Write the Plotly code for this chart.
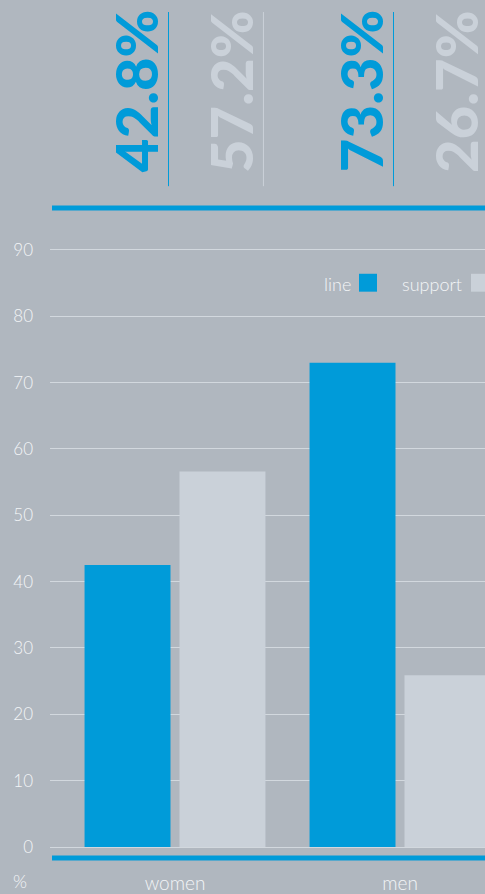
import plotly.graph_objects as go

# ---- data ----
categories = ["women", "men"]
series_names = ["line", "support"]
line_values = [42.5, 73.0]        # bar heights
support_values = [56.6, 25.9]
line_labels = ["42.8%", "73.3%"]  # big headline labels
support_labels = ["57.2%", "26.7%"]
y_ticks = [0, 10, 20, 30, 40, 50, 60, 70, 80, 90]

# ---- styles ----
BG = "#b0b7bf"
BLUE = "#009bd9"
GREY = "#cad1d9"
TXT = "#f3f5f7"
GRID = "#d2d8de"
FONT = "Lato"

W, H = 485, 894
ML, MR, MT, MB = 50, 0, 225, 44
PH = H - MT - MB
PW = W - ML - MR
XR = [-125 / 225, 310 / 225]

def py(p):  # pixel y -> paper y
    return (H - MB - p) / PH

def px(p):  # pixel x -> paper x
    return (p - ML) / PW

def dx2paper(v):
    return (v - XR[0]) / (XR[1] - XR[0])

BAR_W = 0.382
OFF_L = -0.402
OFF_S = 0.02
xpos = list(range(len(categories)))

fig = go.Figure()
fig.add_trace(go.Bar(x=xpos, y=line_values, name=series_names[0], marker_color=BLUE,
                     width=BAR_W, offset=OFF_L, marker_line_width=0))
fig.add_trace(go.Bar(x=xpos, y=support_values, name=series_names[1], marker_color=GREY,
                     width=BAR_W, offset=OFF_S, marker_line_width=0))

ann = []
shapes = []
for i in range(len(categories)):
    for lbl, off, col in ((line_labels[i], OFF_L, BLUE), (support_labels[i], OFF_S, GREY)):
        right = dx2paper(xpos[i] + off + BAR_W)
        ann.append(dict(x=right, xref="paper", y=py(90.5), yref="paper", text=lbl,
                        textangle=-90, showarrow=False, xanchor="right", yanchor="middle",
                        xshift=1, font=dict(family=FONT, size=58, color=col, weight=900)))
        if right <= 1:
            shapes.append(dict(type="line", xref="paper", yref="paper",
                               x0=right - 2 / PW, x1=right - 2 / PW,
                               y0=py(186), y1=py(11), line=dict(color=col, width=1)))

# thick blue rules
shapes.append(dict(type="line", xref="paper", yref="paper", x0=px(52), x1=1.0,
                   y0=py(208), y1=py(208), line=dict(color=BLUE, width=5)))
shapes.append(dict(type="line", xref="paper", yref="paper", x0=px(52), x1=1.0,
                   y0=py(861), y1=py(861), line=dict(color=BLUE, width=5)))

# legend (text before swatch)
for name, tx_right, sq_x0, col in ((series_names[0], 353, 359, BLUE), (series_names[1], 464, 471, GREY)):
    ann.append(dict(x=px(tx_right), y=py(284), xref="paper", yref="paper", text=name,
                    showarrow=False, xanchor="right", yanchor="middle",
                    font=dict(family=FONT, size=18, color=TXT, weight=300)))
    shapes.append(dict(type="rect", xref="paper", yref="paper", x0=px(sq_x0), x1=px(sq_x0 + 18),
                       y0=py(292), y1=py(274), fillcolor=col, line=dict(width=0)))

ann.append(dict(x=px(20), y=py(884), xref="paper", yref="paper", text="%", showarrow=False,
                xanchor="center", yanchor="middle",
                font=dict(family=FONT, size=18, color=TXT, weight=300)))

fig.update_layout(
    width=W, height=H,
    margin=dict(l=ML, r=MR, t=MT, b=MB, pad=0),
    paper_bgcolor=BG, plot_bgcolor=BG,
    showlegend=False,
    annotations=ann, shapes=shapes,
    font=dict(family=FONT, color=TXT),
    xaxis=dict(range=XR, tickvals=xpos, ticktext=categories,
               showgrid=False, zeroline=False, showline=False, ticks="",
               tickfont=dict(family=FONT, size=19, color=TXT, weight=300), ticklabelstandoff=23),
    yaxis=dict(range=[0, PH / (600 / 90)], tickvals=y_ticks, showgrid=True, gridcolor=GRID,
               gridwidth=1, zeroline=True, zerolinecolor=GRID, zerolinewidth=1,
               showline=False, ticks="", tickfont=dict(family=FONT, size=17, color=TXT, weight=300),
               ticklabelstandoff=16),
)

fig.write_html("out.html", config={"displayModeBar": False},
               post_script="document.body.style.margin='0';document.body.style.overflow='hidden';")
